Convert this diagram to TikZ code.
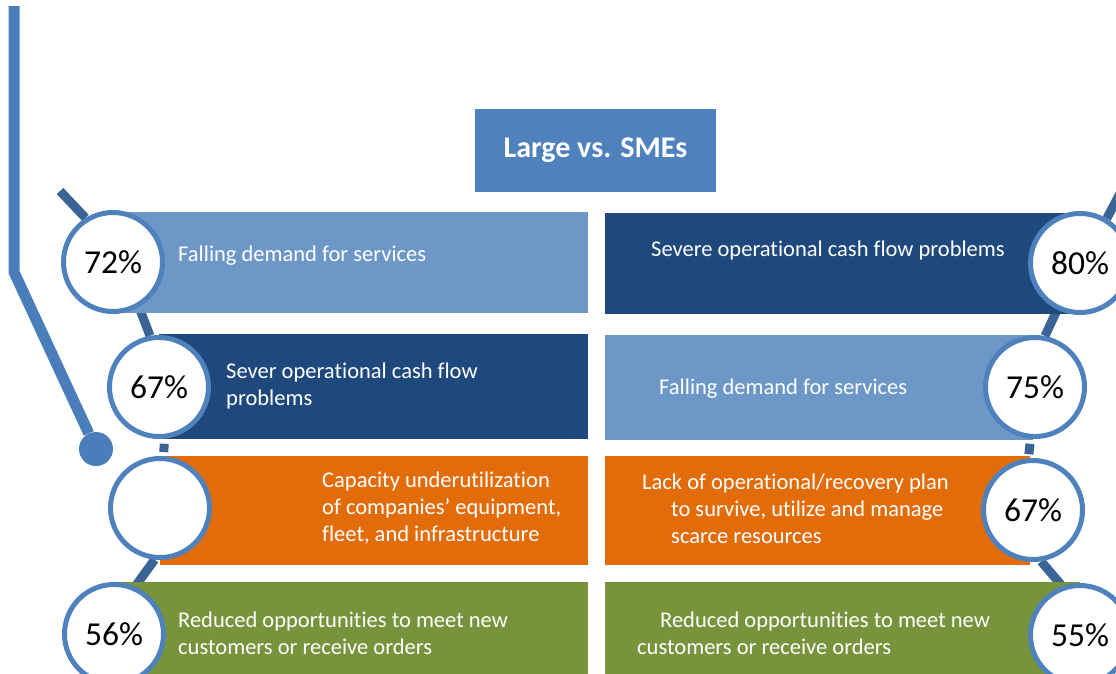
\documentclass[tikz,border=0pt]{standalone}
\usepackage{fontspec}
\setmainfont{Carlito}[RawFeature={-liga;-clig;-calt;-dlig}]
\usetikzlibrary{backgrounds}

\definecolor{azzurro}{RGB}{108,151,199}
\definecolor{blu}{RGB}{31,73,125}
\definecolor{arancio}{RGB}{227,108,10}
\definecolor{verde}{RGB}{119,147,60}
\definecolor{titolo}{RGB}{79,129,189}
\definecolor{anello}{RGB}{79,129,189}
\definecolor{manico}{RGB}{58,99,150}
\definecolor{asta}{RGB}{74,126,187}

\tikzset{
	perc/.style={circle, draw=anello, line width=5pt, fill=white, inner sep=0pt, minimum size=99pt, font=\fontsize{33.5}{40}\selectfont},
	testo/.style={anchor=west, align=left, text=white, inner sep=0pt, font=\fontsize{22.5}{27}\selectfont},
	stecca/.style={draw=manico, line width=9pt},
}

\begin{document}
\begin{tikzpicture}[x=1pt, y=-1pt]
		\useasboundingbox (0,0) rectangle (1116,673);
		\clip (0,0) rectangle (1116,673);

		% titolo
		\node[fill=titolo, minimum width=241pt, minimum height=83pt, text=white, font=\fontsize{30}{36}\selectfont\bfseries] (titolo) at (595.5,150.5) {Large vs. SMEs};

		% cerchi con le percentuali
		\node[perc] (p72) at (113,262) {72\%};
		\node[perc] (p67s) at (159,387) {67\%};
		\node[perc] (pvuoto) at (160,508) {};
		\node[perc] (p56) at (114,634) {56\%};
		\node[perc] (p80) at (1080,263) {80\%};
		\node[perc] (p75) at (1035,387) {75\%};
		\node[perc] (p67d) at (1033,510) {67\%};
		\node[perc] (p55) at (1080,635) {55\%};

		% asta a sinistra
		\node[circle, fill=asta, minimum size=34pt, inner sep=0pt] (pomello) at (96,449) {};
		\coordinate (cima) at (14,6);
		\coordinate (gomito) at (14,272);
		\draw[color=asta, line width=11pt] (cima) -- (gomito) -- (pomello);

		\coordinate (fineS) at (60,191);
		\coordinate (fineD) at (1125,184);

		\begin{scope}[on background layer]
			% manici
			\draw[stecca] (fineS) -- (p72.122);
			\draw[stecca] (p72.-60) -- (p67s.100);
			\draw[stecca, shorten <=5pt, shorten >=4pt] (p67s.-84) -- (pvuoto.86);
			\draw[stecca] (pvuoto.-96) -- (p56.66);
			\draw[stecca] (p80.59) -- (fineD);
			\draw[stecca] (p80.-116) -- (p75.79);
			\draw[stecca, shorten <=5pt, shorten >=4pt] (p75.-95) -- (p67d.95);
			\draw[stecca] (p67d.-81) -- (p55.110);

			% barre
			\fill[color=azzurro] (113,212) rectangle (588,313);
			\fill[color=blu] (605,213) rectangle (1090,314);
			\fill[color=blu] (159,334) rectangle (588,439);
			\fill[color=azzurro] (605,335) rectangle (1033,440);
			\fill[color=arancio] (160,456) rectangle (588,565);
			\fill[color=arancio] (605,456) rectangle (1030,565);
			\fill[color=verde] (114,582) rectangle (588,680);
			\fill[color=verde] (605,582) rectangle (1080,680);
		\end{scope}

		% testi
		\node[testo] (tL1) at (178,256) {Falling demand for services};
		\node[testo] (tL2) at (226,385.5) {Sever operational cash flow\\problems};
		\node[testo] (tL3) at (322,508) {Capacity underutilization\\of companies’ equipment,\\fleet, and infrastructure};
		\node[testo] (tL4) at (178,633.5) {Reduced opportunities to meet new\\customers or receive orders};
		\node[testo] (tR1) at (651,250) {Severe operational cash flow problems};
		\node[testo] (tR2) at (659,389) {Falling demand for services};
		\node[testo] (tR3) at (642,508.5) {Lack of operational/recovery plan\\\hspace*{29pt}to survive, utilize and manage\\\hspace*{29pt}scarce resources};
		\node[testo] (tR4) at (637,633.5) {\hspace*{23pt}Reduced opportunities to meet new\\customers or receive orders};
	\end{tikzpicture}
\end{document}
